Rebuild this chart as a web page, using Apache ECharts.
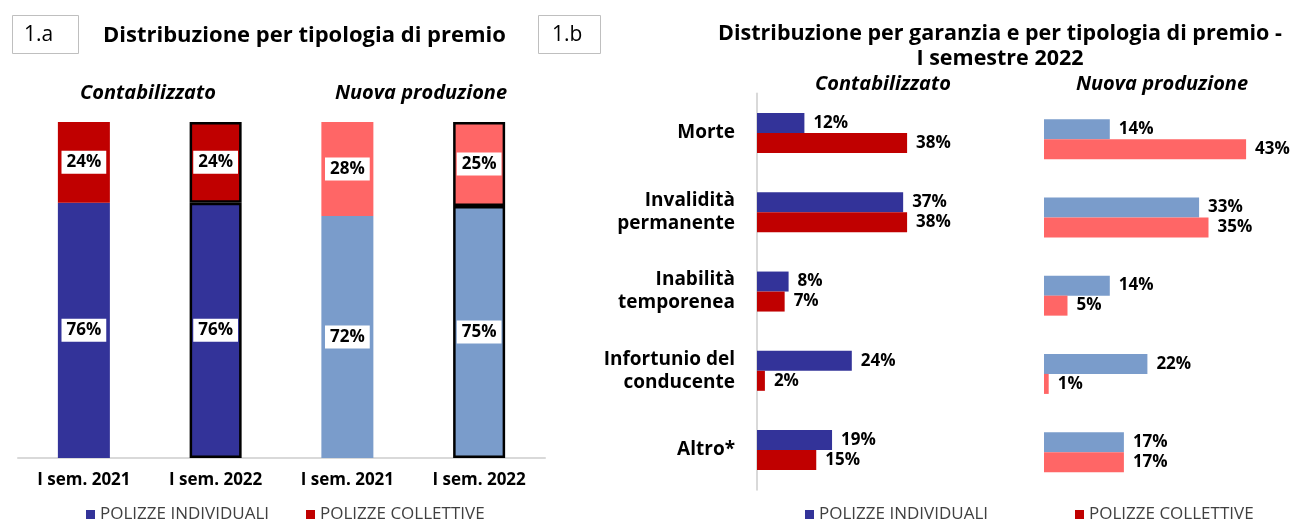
<!DOCTYPE html>
<html>
<head>
<meta charset="utf-8">
<script src="https://cdn.jsdelivr.net/npm/echarts@6/dist/echarts.min.js"></script>
<style>
html,body{margin:0;padding:0;background:#fff;}
#c{width:1290px;height:520px;}
</style>
</head>
<body>
<div id="c"></div>
<script>
// ---- Data ----
const periodCats = ['I sem. 2021', 'I sem. 2022', 'I sem. 2021', 'I sem. 2022'];
const shareIndividuali = [76, 76, 72, 75];
const shareCollettive = [24, 24, 28, 25];

const garanzieCats = ['Morte', 'Invalidità\npermanente', 'Inabilità\ntemporenea', 'Infortunio del\nconducente', 'Altro*'];
const contIndividuali = [12, 37, 8, 24, 19];
const contCollettive = [38, 38, 7, 2, 15];
const nuovaIndividuali = [14, 33, 14, 22, 17];
const nuovaCollettive = [43, 35, 5, 1, 17];

const seriesNames = ['POLIZZE INDIVIDUALI', 'POLIZZE COLLETTIVE'];

// ---- Styles ----
const C_DBLUE = '#333399', C_RED = '#C00000', C_LBLUE = '#7A9CCB', C_SALMON = '#FF6666';
const FONT = '"Open Sans", "DejaVu Sans", sans-serif';

function stackedData(vals, colors) {
  return vals.map((v, i) => ({
    value: v,
    itemStyle: {
      color: colors[i],
      borderColor: (i === 1 || i === 3) ? '#000' : 'transparent',
      borderWidth: (i === 1 || i === 3) ? 2.5 : 0
    }
  }));
}

const insideLabel = {
  show: true, position: 'inside', formatter: '{c}%',
  backgroundColor: '#fff', padding: [4, 5, 2, 5],
  color: '#000', fontWeight: 'bold', fontSize: 17, fontFamily: FONT
};
const rightLabel = {
  show: true, position: 'right', distance: 9, formatter: '{c}%',
  color: '#000', fontWeight: 'bold', fontSize: 17, fontFamily: FONT
};
const subStyle = {fontSize: 20, fontWeight: 'bold', fontStyle: 'italic', fontFamily: FONT, fill: '#000', textAlign: 'center', textVerticalAlign: 'middle'};
const legendText = {fontSize: 17, color: '#404040', fontFamily: FONT};

const chart = echarts.init(document.getElementById('c'), null, {renderer: 'canvas'});

const option = {
  backgroundColor: '#fff',
  animation: false,
  textStyle: {fontFamily: FONT},
  title: [
    {text: 'Distribuzione per tipologia di premio', left: 98, top: 20,
     textStyle: {fontSize: 22, fontWeight: 'bold', color: '#000', fontFamily: FONT}},
    {text: 'Distribuzione per garanzia e per tipologia di premio -\nI semestre 2022', left: 995, top: 16, textAlign: 'center',
     textStyle: {fontSize: 21.5, fontWeight: 'bold', color: '#000', lineHeight: 25, fontFamily: FONT}}
  ],
  graphic: [
    {type: 'rect', shape: {x: 12.5, y: 15.5, width: 66, height: 38}, style: {fill: '#fff', stroke: '#bfbfbf', lineWidth: 1}},
    {type: 'text', x: 24, y: 35, style: {text: '1.a', fontSize: 21, fontFamily: FONT, fill: '#000', textVerticalAlign: 'middle'}},
    {type: 'rect', shape: {x: 538.5, y: 15.5, width: 62, height: 38}, style: {fill: '#fff', stroke: '#bfbfbf', lineWidth: 1}},
    {type: 'text', x: 552, y: 35, style: {text: '1.b', fontSize: 21, fontFamily: FONT, fill: '#000', textVerticalAlign: 'middle'}},
    {type: 'text', x: 148, y: 93, style: Object.assign({text: 'Contabilizzato'}, subStyle)},
    {type: 'text', x: 421, y: 93, style: Object.assign({text: 'Nuova produzione'}, subStyle)},
    {type: 'text', x: 883, y: 84, style: Object.assign({text: 'Contabilizzato'}, subStyle)},
    {type: 'text', x: 1162, y: 84, style: Object.assign({text: 'Nuova produzione'}, subStyle)}
  ],
  legend: [
    {left: 86, top: 506, padding: 0, itemWidth: 9, itemHeight: 9, itemGap: 37, icon: 'rect',
     textStyle: legendText,
     data: [{name: seriesNames[0], itemStyle: {color: C_DBLUE}}, {name: seriesNames[1], itemStyle: {color: C_RED}}]},
    {left: 805, top: 506, padding: 0, itemWidth: 9, itemHeight: 9, itemGap: 87, icon: 'rect',
     textStyle: legendText,
     data: [{name: seriesNames[0], itemStyle: {color: C_DBLUE}}, {name: seriesNames[1], itemStyle: {color: C_RED}}]}
  ],
  grid: [
    {left: 18, top: 122, width: 527, height: 336},
    {left: 757, top: 93.4, width: 197.5, height: 396.3},
    {left: 1044, top: 100, width: 235, height: 391.3}
  ],
  xAxis: [
    {gridIndex: 0, type: 'category', data: periodCats,
     axisLine: {lineStyle: {color: '#d9d9d9', width: 2}}, axisTick: {show: false},
     axisLabel: {margin: 14, fontSize: 17, fontWeight: 'bold', color: '#000', fontFamily: FONT}},
    {gridIndex: 1, type: 'value', min: 0, max: 50, show: false},
    {gridIndex: 2, type: 'value', min: 0, max: 50, show: false}
  ],
  yAxis: [
    {gridIndex: 0, type: 'value', min: 0, max: 100, show: false},
    {gridIndex: 1, type: 'category', data: garanzieCats, inverse: true,
     axisLine: {lineStyle: {color: '#d9d9d9', width: 2}}, axisTick: {show: false},
     axisLabel: {margin: 22, fontSize: 19, fontWeight: 'bold', color: '#000', lineHeight: 23, align: 'right', fontFamily: FONT}},
    {gridIndex: 2, type: 'category', data: garanzieCats, inverse: true, show: false}
  ],
  series: [
    {name: seriesNames[0], type: 'bar', stack: 'a', xAxisIndex: 0, yAxisIndex: 0, barWidth: 52,
     color: C_DBLUE,
     data: stackedData(shareIndividuali, [C_DBLUE, C_DBLUE, C_LBLUE, C_LBLUE]), label: insideLabel},
    {name: seriesNames[1], type: 'bar', stack: 'a', xAxisIndex: 0, yAxisIndex: 0, barWidth: 52,
     color: C_RED,
     data: stackedData(shareCollettive, [C_RED, C_RED, C_SALMON, C_SALMON]), label: insideLabel},
    {name: seriesNames[0], type: 'bar', xAxisIndex: 1, yAxisIndex: 1, barWidth: 20, barGap: '0%',
     itemStyle: {color: C_DBLUE}, data: contIndividuali, label: rightLabel},
    {name: seriesNames[1], type: 'bar', xAxisIndex: 1, yAxisIndex: 1, barWidth: 20, barGap: '0%',
     itemStyle: {color: C_RED}, data: contCollettive, label: rightLabel},
    {name: seriesNames[0], type: 'bar', xAxisIndex: 2, yAxisIndex: 2, barWidth: 20, barGap: '0%',
     itemStyle: {color: C_LBLUE}, data: nuovaIndividuali, label: rightLabel},
    {name: seriesNames[1], type: 'bar', xAxisIndex: 2, yAxisIndex: 2, barWidth: 20, barGap: '0%',
     itemStyle: {color: C_SALMON}, data: nuovaCollettive, label: rightLabel}
  ]
};
chart.setOption(option);
</script>
</body>
</html>
